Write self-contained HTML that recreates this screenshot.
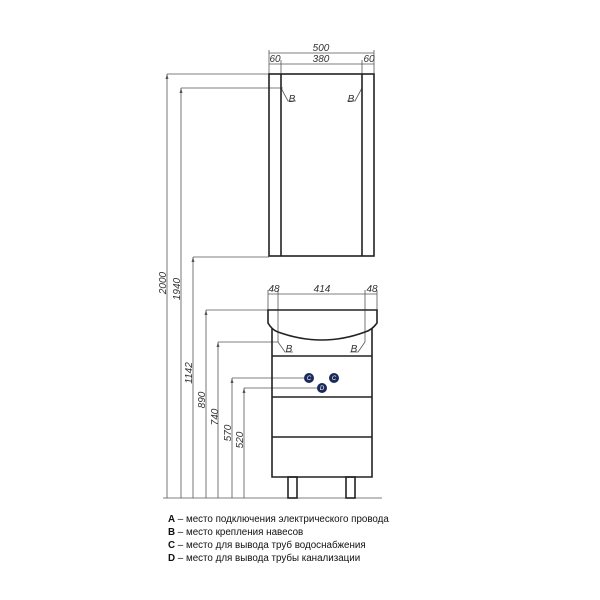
<!DOCTYPE html>
<html><head><style>body{margin:0;background:#fff}svg{display:block}</style></head><body>
<svg width="600" height="600" viewBox="0 0 600 600" xmlns="http://www.w3.org/2000/svg" font-family="Liberation Sans, sans-serif">
<g stroke="#555" stroke-width="0.8" fill="none">
<line x1="167" y1="74" x2="167" y2="498"/><line x1="167" y1="74" x2="269" y2="74"/>
<line x1="181" y1="88" x2="181" y2="498"/><line x1="181" y1="88" x2="283" y2="88"/>
<line x1="193" y1="257" x2="193" y2="498"/><line x1="193" y1="257" x2="269" y2="257"/>
<line x1="206" y1="310" x2="206" y2="498"/><line x1="206" y1="310" x2="268" y2="310"/>
<line x1="218" y1="342" x2="218" y2="498"/><line x1="218" y1="342" x2="278" y2="342"/>
<line x1="232" y1="378" x2="232" y2="498"/><line x1="232" y1="378" x2="304" y2="378"/>
<line x1="244" y1="388" x2="244" y2="498"/><line x1="244" y1="388" x2="317" y2="388"/>
<line x1="163" y1="498" x2="382" y2="498"/>
<line x1="269" y1="50" x2="269" y2="74"/><line x1="374" y1="50" x2="374" y2="74"/>
<line x1="281" y1="60" x2="281" y2="74"/><line x1="362" y1="60" x2="362" y2="74"/>
<line x1="269" y1="53" x2="374" y2="53"/><line x1="269" y1="64" x2="374" y2="64"/>
<line x1="268" y1="290" x2="268" y2="310"/><line x1="377" y1="290" x2="377" y2="310"/>
<line x1="278" y1="290" x2="278" y2="342"/><line x1="365" y1="290" x2="365" y2="342"/>
<line x1="268" y1="294" x2="377" y2="294"/>
<polyline points="281,88 288,101 296,101"/><polyline points="362,88 355,101 347,101"/>
<polyline points="278,342 285,352 293,352"/><polyline points="365,342 358,352 350,352"/>
</g>
<g fill="#555">
<path d="M167,74 l-1.5,5 h3z"/><path d="M181,88 l-1.5,5 h3z"/><path d="M193,257 l-1.5,5 h3z"/>
<path d="M206,310 l-1.5,5 h3z"/><path d="M218,342 l-1.5,5 h3z"/><path d="M232,378 l-1.5,5 h3z"/><path d="M244,388 l-1.5,5 h3z"/>
</g>
<g stroke="#222" stroke-width="1.6" fill="none">
<rect x="269" y="74" width="105" height="182"/>
<line x1="281" y1="74" x2="281" y2="256"/><line x1="362" y1="74" x2="362" y2="256"/>
<path d="M268,310 H377 V323 Q372,330 365,332 Q322,348 278,332 Q272,330 268,323 Z"/>
<polyline points="272,328 272,477 372,477 372,328"/>
<line x1="272" y1="356" x2="372" y2="356"/><line x1="272" y1="397" x2="372" y2="397"/><line x1="272" y1="437" x2="372" y2="437"/>
<rect x="288" y="477" width="9" height="21"/><rect x="346" y="477" width="9" height="21"/>
</g>
<g fill="#1a2a5a">
<circle cx="309" cy="378" r="5"/><circle cx="334" cy="378" r="5"/><circle cx="322" cy="388" r="5"/>
</g>
<g fill="#fff" font-size="6" font-style="italic" text-anchor="middle"><text x="309" y="380">C</text><text x="334" y="380">C</text><text x="322" y="390">D</text></g>
<g fill="#333" font-size="10" font-style="italic" text-anchor="middle">
<text x="321" y="51">500</text><text x="321" y="62">380</text><text x="275" y="62">60</text><text x="369" y="62">60</text>
<text x="322" y="292">414</text><text x="274" y="292">48</text><text x="372" y="292">48</text>
<text x="292" y="102">B</text><text x="351" y="102">B</text><text x="289" y="352">B</text><text x="354" y="352">B</text>
<text transform="translate(166,283) rotate(-90)">2000</text>
<text transform="translate(180,289) rotate(-90)">1940</text>
<text transform="translate(192,373) rotate(-90)">1142</text>
<text transform="translate(205,400) rotate(-90)">890</text>
<text transform="translate(218,417) rotate(-90)">740</text>
<text transform="translate(231,433) rotate(-90)">570</text>
<text transform="translate(243,440) rotate(-90)">520</text>
</g>
<g fill="#111" font-size="9.8">
<text x="168" y="522"><tspan font-weight="bold">A</tspan> – место подключения электрического провода</text>
<text x="168" y="535"><tspan font-weight="bold">B</tspan> – место крепления навесов</text>
<text x="168" y="548"><tspan font-weight="bold">C</tspan> – место для вывода труб водоснабжения</text>
<text x="168" y="561"><tspan font-weight="bold">D</tspan> – место для вывода трубы канализации</text>
</g>
</svg>
</body></html>
